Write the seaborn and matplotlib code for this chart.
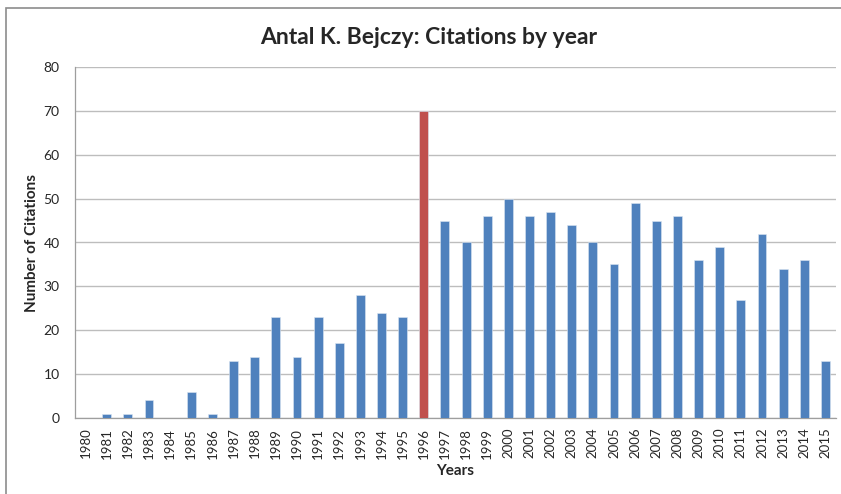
#!/usr/bin/env python3
"""
Citations by year bar chart (Antal K. Bejczy).
"""

import numpy as np
import pandas as pd
import matplotlib
matplotlib.use("Agg")
import matplotlib.pyplot as plt
from matplotlib.patches import Rectangle
import seaborn as sns

# Data
years = [str(y) for y in range(1980, 2016)]
citations = [0, 1, 1, 4, 0, 6, 1, 13, 14, 23, 14, 23, 17, 28, 24, 23, 70,
             45, 40, 46, 50, 46, 47, 44, 40, 35, 49, 45, 46, 36, 39, 27, 42,
             34, 36, 13]
highlight_year = "1996"
y_ticks = list(range(0, 90, 10))

df = pd.DataFrame({"year": years, "citations": citations})
df["group"] = np.where(df["year"] == highlight_year, "peak", "normal")

sns.set_style("white")
plt.rcParams["font.family"] = ["Lato", "DejaVu Sans"]

fig = plt.figure(figsize=(8.41, 4.94), dpi=100)
ax = fig.add_axes([75 / 841, 1 - 418 / 494, (836 - 75) / 841, (418 - 67) / 494])

# outer chart frame (cropped on the right/bottom like the reference)
fig.patches.append(Rectangle((6 / 841, -0.1), 1.2, 1 - 8 / 494 + 0.1,
                             transform=fig.transFigure, fill=False,
                             edgecolor="#8c8c8c", linewidth=1.2, zorder=0))

sns.barplot(data=df, x="year", y="citations", hue="group",
            palette={"normal": "#4F81BD", "peak": "#C0504D"}, saturation=1,
            width=0.42, dodge=False, legend=False, ax=ax,
            edgecolor="#dbe5f1", linewidth=0.4, zorder=3)

ax.set_xlim(-0.5, len(years) - 0.5)
ax.set_ylim(0, 80)
ax.set_yticks(y_ticks)
ax.yaxis.grid(True, color="#bdbdbd", linewidth=1.0, zorder=0)
ax.set_axisbelow(True)

# Excel-style ticks between categories
ax.set_xticks(range(len(years)))
ax.set_xticklabels(years, rotation=90)
ax.set_xticks(np.arange(-0.5, len(years), 1.0), minor=True)
ax.tick_params(axis="x", which="major", length=0, pad=7, labelsize=9.5,
               labelcolor="#262626")
ax.tick_params(axis="x", which="minor", length=5, color="#9e9e9e", width=0.8,
               direction="out")
ax.tick_params(axis="y", length=5, color="#9e9e9e", width=0.8, direction="out",
               labelsize=10, labelcolor="#262626", pad=6)

for side in ["top", "right"]:
    ax.spines[side].set_visible(False)
for side in ["left", "bottom"]:
    ax.spines[side].set_color("#9e9e9e")
    ax.spines[side].set_linewidth(0.9)

ax.set_xlabel("Years", fontsize=11, fontweight="bold", labelpad=4)
ax.set_ylabel("Number of Citations", fontsize=11, fontweight="bold", labelpad=3)

fig.text(429 / 841, 1 - 37 / 494, "Antal K. Bejczy: Citations by year",
         ha="center", va="center", fontsize=16.5, fontweight="bold")

fig.savefig("out.png", dpi=100)
plt.close(fig)
